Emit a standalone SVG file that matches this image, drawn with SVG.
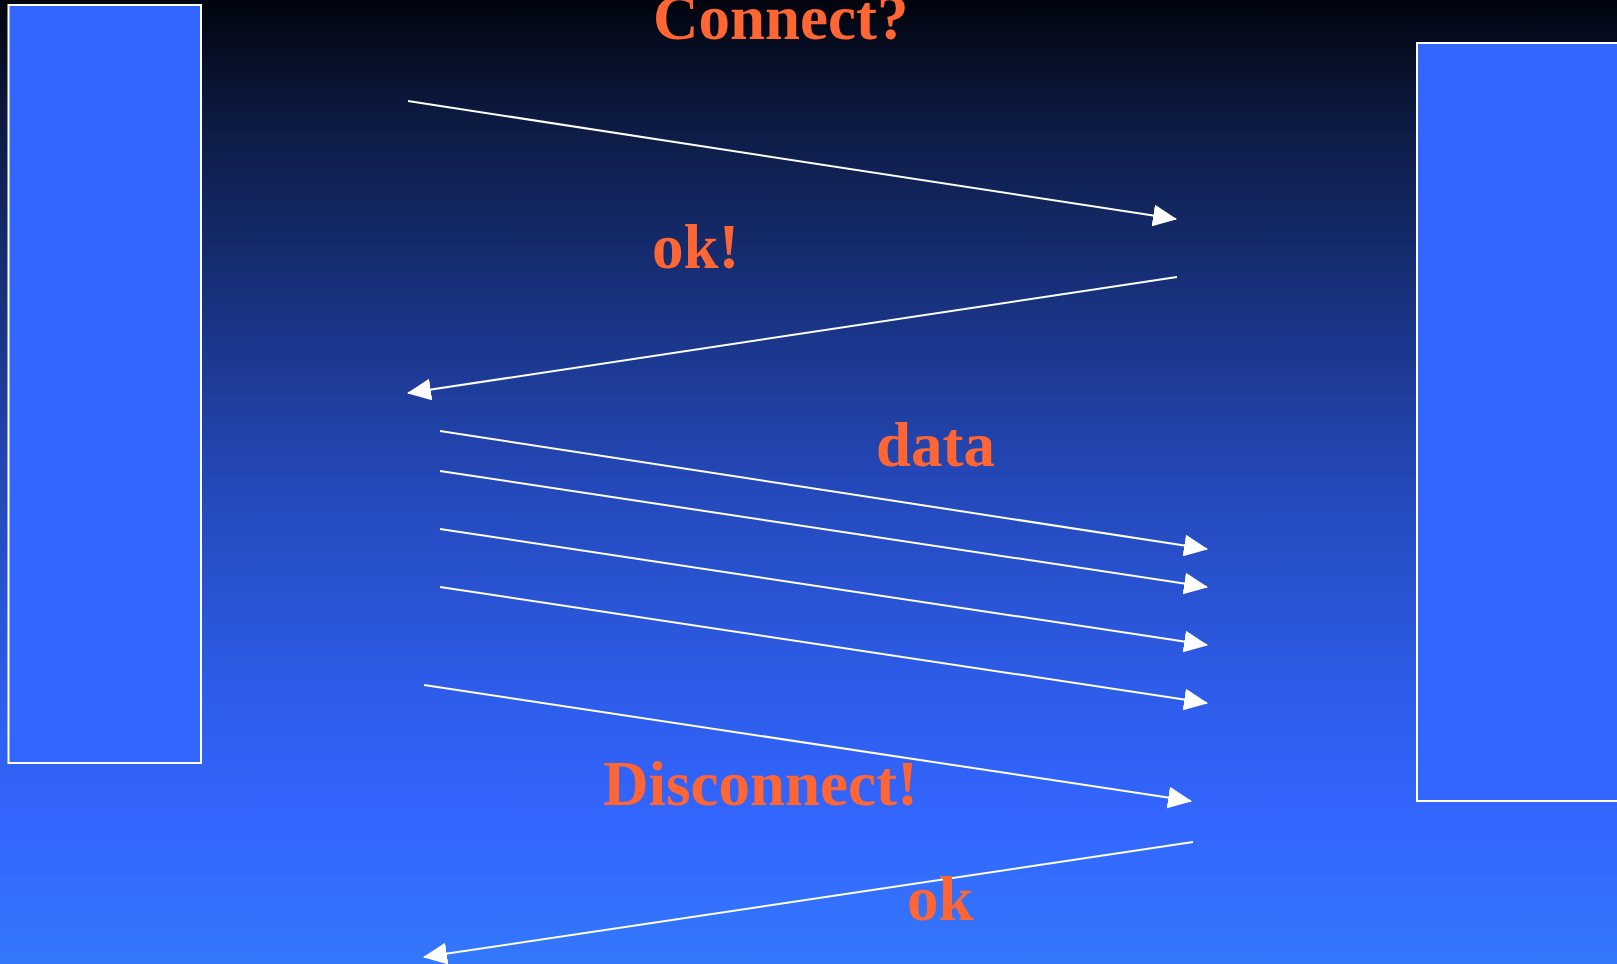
<svg xmlns="http://www.w3.org/2000/svg" width="1617" height="964" viewBox="0 0 1617 964">
<defs>
<linearGradient id="bg" x1="0" y1="0" x2="0" y2="1">
<stop offset="0" stop-color="#01040d"/>
<stop offset="0.12" stop-color="#0c1a40"/>
<stop offset="0.3" stop-color="#17307a"/>
<stop offset="0.5" stop-color="#2448b8"/>
<stop offset="0.7" stop-color="#2d5be6"/>
<stop offset="0.85" stop-color="#3366ff"/>
<stop offset="1" stop-color="#3378fa"/>
</linearGradient>
<marker id="ah" viewBox="0 0 24 22" refX="23" refY="11" markerWidth="24" markerHeight="22" markerUnits="userSpaceOnUse" orient="auto">
<path d="M0,0 L24,11 L0,22 Z" fill="#ffffff"/>
</marker>
<style>
.box{fill:#3366ff;stroke:#ffffff;stroke-width:2}
.c{stroke:#ffffff;stroke-width:2;fill:none;marker-end:url(#ah)}
.t{font-family:"Liberation Serif","Times New Roman",serif;font-weight:bold;font-size:63px;fill:#ff6633}
</style>
</defs>
<rect x="0" y="0" width="1617" height="964" fill="url(#bg)"/>
<g id="client"><rect class="box" x="8.5" y="5" width="192.5" height="758"/></g>
<g id="server"><rect class="box" x="1417" y="43" width="210" height="758"/></g>
<g id="connectors">
<line class="c" x1="408" y1="101" x2="1176" y2="219"/>
<line class="c" x1="1177" y1="277" x2="408" y2="393"/>
<line class="c" x1="440" y1="431" x2="1207" y2="549"/>
<line class="c" x1="440" y1="471" x2="1207" y2="587"/>
<line class="c" x1="440" y1="529" x2="1207" y2="645"/>
<line class="c" x1="440" y1="587" x2="1207" y2="703"/>
<line class="c" x1="424" y1="685" x2="1191" y2="801"/>
<line class="c" x1="1193" y1="842" x2="424" y2="957"/>
</g>
<g id="labels">
<text class="t" x="653" y="39">Connect?</text>
<text class="t" x="652" y="268">ok!</text>
<text class="t" x="876" y="466">data</text>
<text class="t" x="603" y="805">Disconnect!</text>
<text class="t" x="907" y="920">ok</text>
</g>
</svg>
